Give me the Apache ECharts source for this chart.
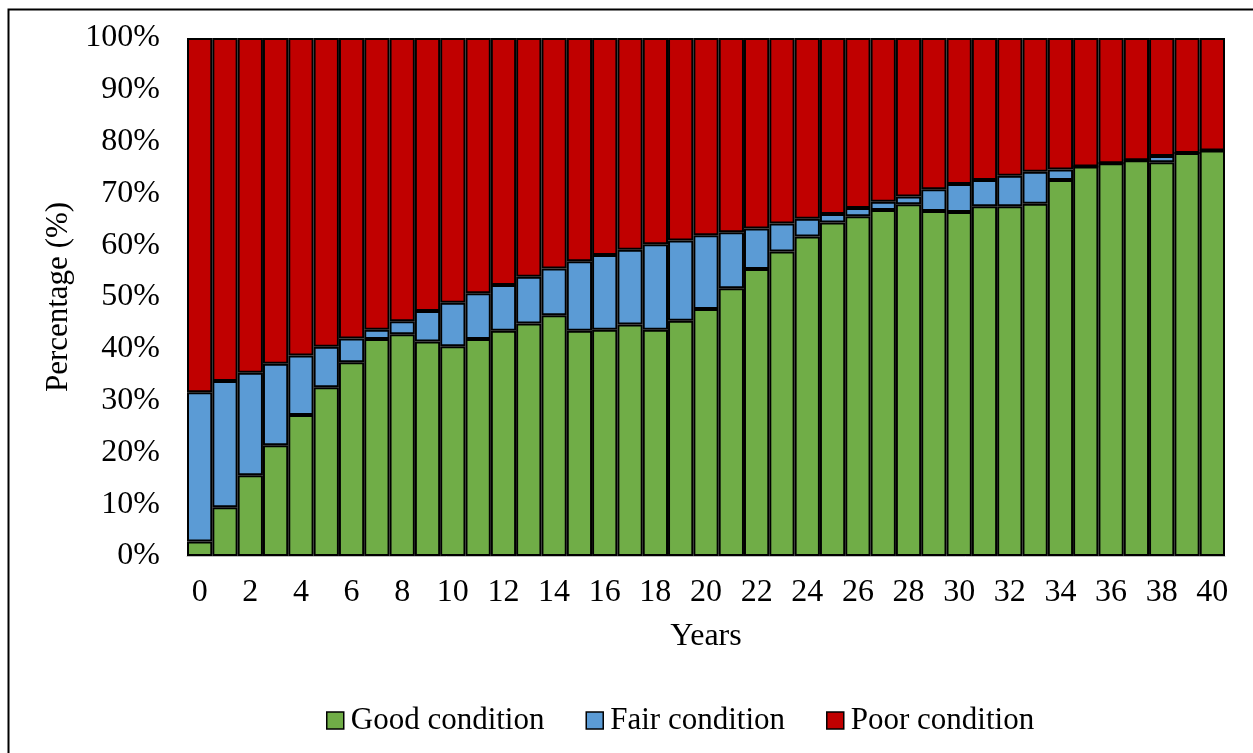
<!DOCTYPE html>
<html>
<head>
<meta charset="utf-8">
<script src="https://cdn.jsdelivr.net/npm/echarts@6/dist/echarts.min.js"></script>
<style>
  html, body { margin: 0; padding: 0; background: #fff; }
  #chart { width: 1253px; height: 753px; }
</style>
</head>
<body>
<div id="chart"></div>
<script>
// Share of the network in each condition state, per year
const years = Array.from({ length: 41 }, (_, i) => String(i));
const goodCondition = [2.8, 9.4, 15.6, 21.4, 27.2, 32.6, 37.4, 41.9, 42.8, 41.4, 40.5, 41.9, 43.5, 44.9, 46.5, 43.5, 43.7, 44.7, 43.7, 45.4, 47.7, 51.7, 55.4, 58.8, 61.7, 64.4, 65.6, 66.8, 67.9, 66.6, 66.4, 67.5, 67.5, 68.0, 72.6, 75.2, 75.8, 76.4, 76.0, 77.8, 78.3];
const fairCondition = [28.8, 24.4, 19.8, 15.7, 11.5, 7.8, 4.6, 1.8, 2.5, 5.9, 8.4, 8.8, 8.8, 9.0, 9.0, 13.4, 14.4, 14.4, 16.5, 15.5, 14.2, 10.8, 7.8, 5.4, 3.4, 1.6, 1.6, 1.6, 1.5, 4.2, 5.4, 5.1, 5.9, 6.2, 2.0, 0, 0, 0, 1.2, 0, 0];
const poorCondition = [68.4, 66.2, 64.6, 62.9, 61.3, 59.6, 58.0, 56.3, 54.7, 52.7, 51.1, 49.3, 47.7, 46.1, 44.5, 43.1, 41.9, 40.9, 39.8, 39.1, 38.1, 37.5, 36.8, 35.8, 34.9, 34.0, 32.8, 31.6, 30.6, 29.2, 28.2, 27.4, 26.6, 25.8, 25.4, 24.8, 24.2, 23.6, 22.8, 22.2, 21.7];

const FONT = '"Liberation Serif", "Times New Roman", serif';
const FS = 32;
const chart = echarts.init(document.getElementById('chart'), null, { renderer: 'canvas' });

function barSeries(name, data, color) {
  return {
    name: name,
    type: 'bar',
    stack: 'condition',
    data: data,
    barCategoryGap: '0%',
    itemStyle: { color: color, borderColor: '#000', borderWidth: 2 },
    emphasis: { disabled: true }
  };
}

chart.setOption({
  animation: false,
  backgroundColor: '#fff',
  graphic: [{
    type: 'rect',
    left: 6, top: 7,
    shape: { width: 1270, height: 770 },
    style: { fill: 'none', stroke: '#000', lineWidth: 2 },
    silent: true,
    z: 100
  }],
  grid: { left: 187, right: 28, top: 38, bottom: 197 },
  legend: {
    left: 321,
    top: 700,
    icon: 'rect',
    itemWidth: 17,
    itemHeight: 17,
    itemGap: 41,
    itemStyle: { borderColor: '#000', borderWidth: 1.5 },
    textStyle: { fontFamily: FONT, fontSize: 31, color: '#000', padding: [0, 0, 0, 2] },
    data: ['Good condition', 'Fair condition', 'Poor condition']
  },
  xAxis: {
    type: 'category',
    data: years,
    name: 'Years',
    nameLocation: 'middle',
    nameGap: 65,
    nameTextStyle: { fontFamily: FONT, fontSize: FS, color: '#000' },
    axisLine: { show: true, lineStyle: { color: '#bfbfbf', width: 1 } },
    axisTick: { show: false },
    axisLabel: { interval: 1, margin: 21, fontFamily: FONT, fontSize: FS, color: '#000' }
  },
  yAxis: {
    type: 'value',
    min: 0,
    max: 100,
    interval: 10,
    name: 'Percentage (%)',
    nameLocation: 'middle',
    nameGap: 106,
    nameTextStyle: { fontFamily: FONT, fontSize: 31, color: '#000' },
    axisLine: { show: false },
    axisTick: { show: false },
    splitLine: { show: false },
    axisLabel: { formatter: '{value}%', margin: 27, fontFamily: FONT, fontSize: FS, color: '#000' }
  },
  series: [
    barSeries('Good condition', goodCondition, '#70AD47'),
    barSeries('Fair condition', fairCondition, '#5B9BD5'),
    barSeries('Poor condition', poorCondition, '#C00000')
  ]
});
</script>
</body>
</html>
